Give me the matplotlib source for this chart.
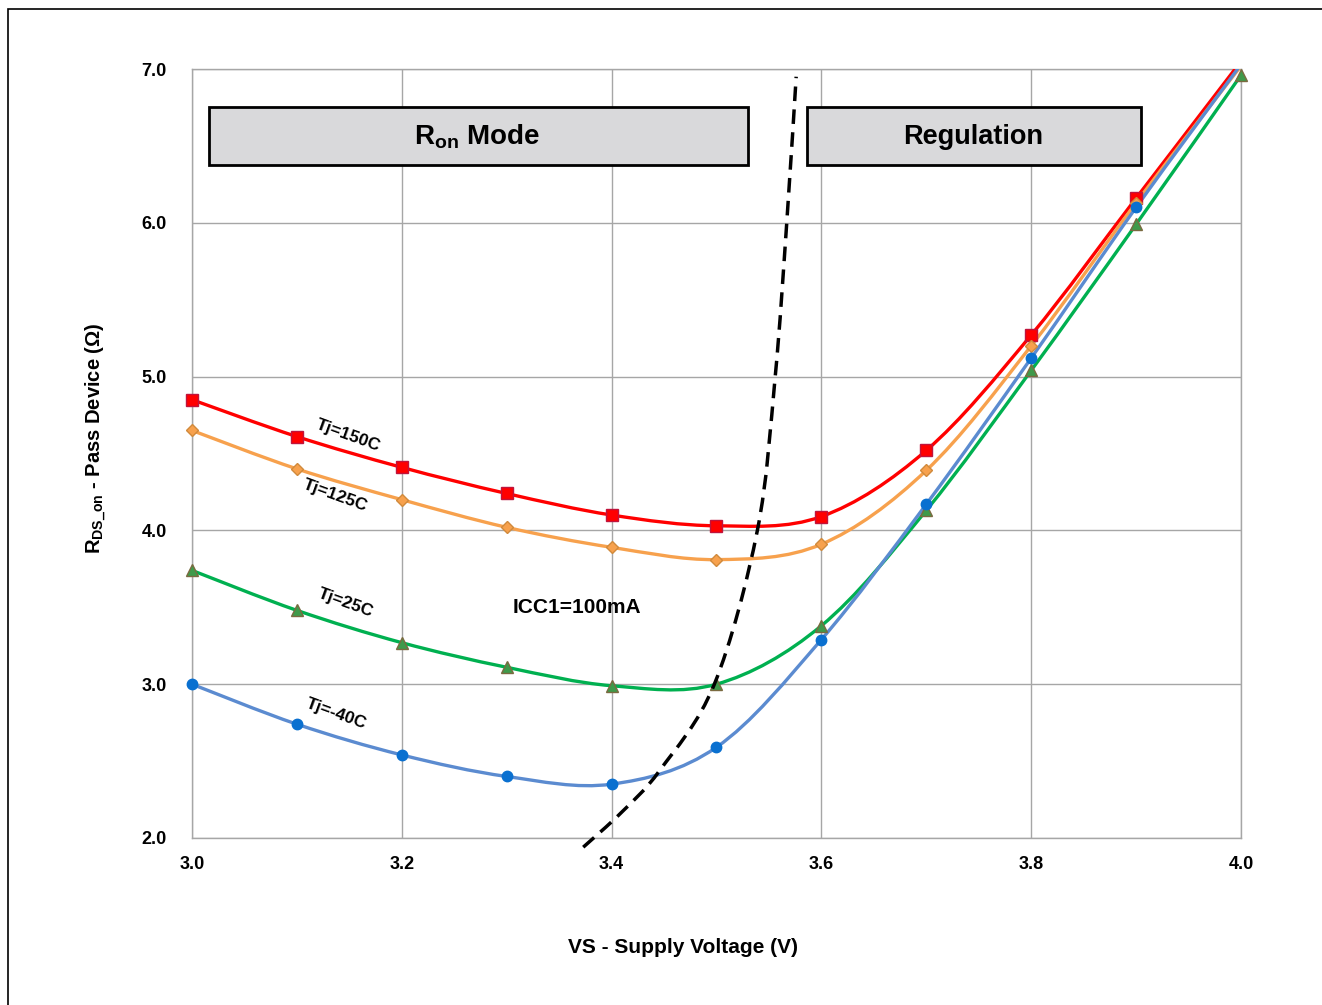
import matplotlib
matplotlib.use("Agg")
import matplotlib.pyplot as plt
import numpy as np
from matplotlib.path import Path
from matplotlib.patches import PathPatch, Rectangle

plt.rcParams['font.family'] = ['Liberation Sans', 'DejaVu Sans']
plt.rcParams['font.weight'] = 'bold'
plt.rcParams['mathtext.fontset'] = 'custom'
plt.rcParams['mathtext.rm'] = 'Liberation Sans:bold'
plt.rcParams['mathtext.default'] = 'rm'

# supply voltage (V)
vs = [3.0, 3.1, 3.2, 3.3, 3.4, 3.5, 3.6, 3.7, 3.8, 3.9, 4.0]

# RDS_on (ohm) per junction temperature
r_150 = [4.85, 4.61, 4.41, 4.24, 4.10, 4.03, 4.09, 4.52, 5.27, 6.16, 7.05]
r_125 = [4.65, 4.40, 4.20, 4.02, 3.89, 3.81, 3.91, 4.39, 5.20, 6.13, 7.02]
r_25 = [3.74, 3.48, 3.27, 3.11, 2.99, 3.00, 3.38, 4.13, 5.04, 5.99, 6.96]
r_m40 = [3.00, 2.74, 2.54, 2.40, 2.35, 2.59, 3.29, 4.17, 5.12, 6.10, 7.03]

# boundary between Ron mode and regulation
bound_x = [3.373, 3.41, 3.446, 3.498, 3.539, 3.556, 3.567, 3.576]
bound_y = [1.94, 2.17, 2.44, 3.00, 4.00, 5.00, 6.00, 6.95]

y_max = 7.0


def smooth_path(x, y):
    # catmull-rom -> cubic bezier, like excel's smoothed line
    pts = np.column_stack([x, y])
    n = len(pts)
    verts = [pts[0]]
    codes = [Path.MOVETO]
    for i in range(n - 1):
        p0 = pts[i - 1] if i > 0 else pts[i]
        p1 = pts[i]
        p2 = pts[i + 1]
        p3 = pts[i + 2] if i + 2 < n else pts[i + 1]
        c1 = p1 + (p2 - p0) / 6.0
        c2 = p2 - (p3 - p1) / 6.0
        verts += [c1, c2, p2]
        codes += [Path.CURVE4] * 3
    return Path(verts, codes)


fig = plt.figure(figsize=(13.22, 10.05), dpi=100)
ax = fig.add_axes([0.1452, 0.1662, 0.7935, 0.7651])

series = [
    (r_150, '#ff0000', 's', '#ff0000', '#c0143c', 8.5),
    (r_125, '#f7a14d', 'D', '#f7a14d', '#d08a3c', 6),
    (r_25, '#00b050', '^', '#3f9a4a', '#7a6a40', 8.5),
    (r_m40, '#5b8bd0', 'o', '#0a70d0', '#0a70d0', 7.5),
]
for vals, lc, mk, mfc, mec, ms in series:
    ax.add_patch(PathPatch(smooth_path(vs, vals), facecolor='none', edgecolor=lc,
                           lw=2.4, zorder=3))
    # excel hides markers that fall outside the axis range
    x = np.array(vs)
    y = np.array(vals)
    keep = y <= y_max
    ax.plot(x[keep], y[keep], ls='none', marker=mk, ms=ms, mfc=mfc, mec=mec, mew=1.0,
            zorder=4, clip_on=False)

ax.add_patch(PathPatch(smooth_path(bound_x, bound_y), facecolor='none', edgecolor='black',
                       lw=2.5, ls=(0, (4.2, 2.4)), zorder=5, clip_on=False))

ax.set_xlim(3.0, 4.0)
ax.set_ylim(2.0, y_max)
ax.set_xticks(np.arange(3.0, 4.01, 0.2))
ax.set_yticks(np.arange(2.0, 7.01, 1.0))
ax.xaxis.set_major_formatter(plt.FormatStrFormatter('%.1f'))
ax.yaxis.set_major_formatter(plt.FormatStrFormatter('%.1f'))
ax.tick_params(length=0, labelsize=13, pad=13)
ax.tick_params(axis='y', pad=18)
ax.grid(True, color='#a6a6a6', lw=1.0)
ax.set_axisbelow(True)
for s in ax.spines.values():
    s.set_color('#a6a6a6')
    s.set_linewidth(1.0)

ax.set_xlabel('VS - Supply Voltage (V)', fontsize=15, fontweight='bold')
ax.xaxis.set_label_coords(0.468, -0.13)
ax.set_ylabel(r'R$_{DS\_on}$ - Pass Device (Ω)', fontsize=14.5, fontweight='bold')
ax.yaxis.set_label_coords(-0.08, 0.52)

# mode boxes
ax.add_patch(Rectangle((3.0162, 6.376), 0.5138, 0.377, facecolor='#d9d9db', edgecolor='black',
                       lw=2, zorder=6))
ax.add_patch(Rectangle((3.586, 6.376), 0.3187, 0.377, facecolor='#d9d9db', edgecolor='black',
                       lw=2, zorder=6))
ax.text(3.272, 6.56, r'R$_{on}$ Mode', fontsize=20, ha='center', va='center', zorder=7)
ax.text(3.745, 6.56, 'Regulation', fontsize=19.5, ha='center', va='center', zorder=7)

# curve labels
ax.text(3.149, 4.62, 'Tj=150C', fontsize=12.5, rotation=-20, ha='center', va='center')
ax.text(3.136, 4.23, 'Tj=125C', fontsize=12.5, rotation=-20, ha='center', va='center')
ax.text(3.146, 3.53, 'Tj=25C', fontsize=12.5, rotation=-20, ha='center', va='center')
ax.text(3.137, 2.81, 'Tj=-40C', fontsize=12.5, rotation=-20, ha='center', va='center')
ax.text(3.367, 3.50, 'ICC1=100mA', fontsize=15, ha='center', va='center')

# outer frame
fig.add_artist(Rectangle((8 / 1322, -0.02), 1.05, 1 - 9 / 1005 + 0.02, transform=fig.transFigure,
                         facecolor='none', edgecolor='black', lw=1.2))

fig.savefig('out.png', dpi=100)
